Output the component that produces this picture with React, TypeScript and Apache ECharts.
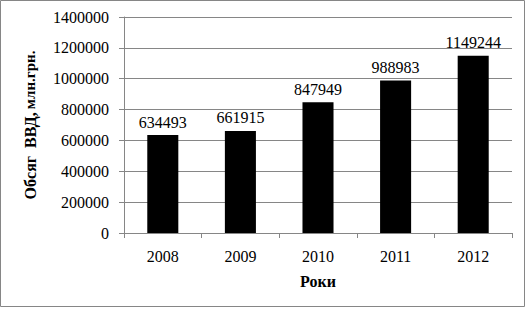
import React, { useEffect, useRef } from "react";
import * as echarts from "echarts";

const categories = ["2008", "2009", "2010", "2011", "2012"];
const values = [634493, 661915, 847949, 988983, 1149244];
const yMax = 1400000;
const yInterval = 200000;

export default function App() {
  const ref = useRef<HTMLDivElement>(null);
  useEffect(() => {
    document.body.style.margin = "0";
    const chart = echarts.init(ref.current!, null, { renderer: "svg" });
    const font = "Liberation Serif";
    chart.setOption({
      animation: false,
      backgroundColor: "#ffffff",
      textStyle: { fontFamily: font },
      grid: { left: 124, right: 16, top: 17, bottom: 76, containLabel: false },
      graphic: [
        {
          type: "rect",
          shape: { x: 0.5, y: 0.5, width: 524, height: 306 },
          style: { fill: "none", stroke: "#868686", lineWidth: 1 },
          silent: true,
        },
      ],
      xAxis: {
        type: "category",
        data: categories,
        name: "Роки",
        nameLocation: "middle",
        nameGap: 40,
        nameTextStyle: { fontFamily: font, fontSize: 16, fontWeight: "bold", color: "#000" },
        axisLine: { lineStyle: { color: "#868686", width: 1 } },
        axisTick: { show: true, alignWithLabel: false, length: 5, lineStyle: { color: "#868686" } },
        axisLabel: { fontFamily: font, fontSize: 16, color: "#000", margin: 15 },
      },
      yAxis: {
        type: "value",
        min: 0,
        max: yMax,
        interval: yInterval,
        name: "{a|Обсяг  ВВД,} {b|млн.грн.}",
        nameLocation: "middle",
        nameRotate: 90,
        nameGap: 86,
        nameTextStyle: {
          fontFamily: font,
          fontWeight: "bold",
          color: "#000",
          rich: {
            a: { fontFamily: font, fontSize: 16, fontWeight: "bold", color: "#000" },
            b: { fontFamily: font, fontSize: 15, fontWeight: "bold", color: "#000" },
          },
        },
        axisLine: { show: true, lineStyle: { color: "#868686", width: 1 } },
        axisTick: { show: true, length: 5, lineStyle: { color: "#868686" } },
        axisLabel: {
          fontFamily: font,
          fontSize: 16,
          color: "#000",
          margin: 15,
          formatter: (v: number) => String(v),
        },
        splitLine: { show: true, lineStyle: { color: "#868686", width: 1 } },
      },
      series: [
        {
          type: "bar",
          data: values,
          barWidth: "40%",
          itemStyle: { color: "#000000" },
          label: {
            show: true,
            position: "top",
            distance: 5,
            fontFamily: font,
            fontSize: 16,
            color: "#000",
          },
        },
      ],
    });
    return () => chart.dispose();
  }, []);
  return <div ref={ref} style={{ width: 528, height: 309 }} />;
}
